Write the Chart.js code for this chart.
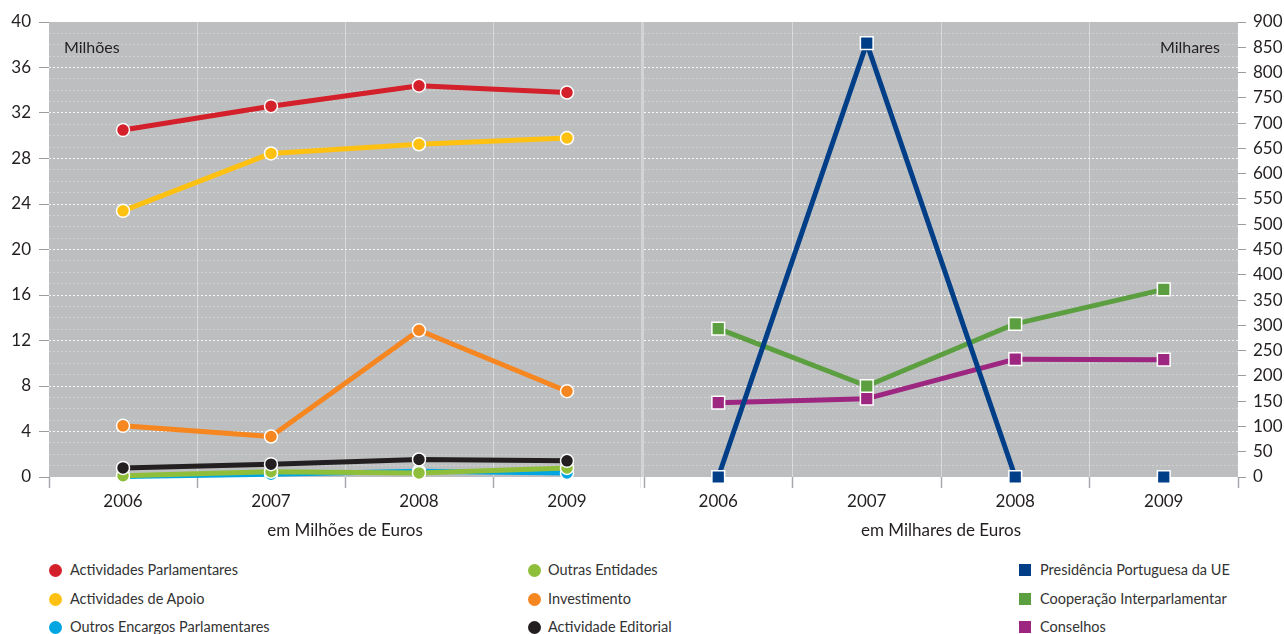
<!DOCTYPE html>
<html><head><meta charset="utf-8">
<script src="https://cdn.jsdelivr.net/npm/chart.js@4.4.1/dist/chart.umd.min.js"></script>
<style>
html,body{margin:0;padding:0;background:#fff;}
#wrap{position:relative;width:1284px;height:634px;overflow:hidden;font-family:Lato,"Open Sans",sans-serif;color:#231f20;}
canvas{position:absolute;top:0;}
.lbl{position:absolute;font-size:16px;line-height:20px;color:#231f20;white-space:nowrap;}
.leg{position:absolute;font-size:14.5px;line-height:18px;color:#333;white-space:nowrap;}
.mk{position:absolute;}
</style></head><body>
<div id="wrap">
<canvas id="c1" width="641" height="545" style="left:0px"></canvas>
<canvas id="c2" width="643" height="545" style="left:641px"></canvas>
<div class="lbl" style="left:64px;top:37px">Milhões</div>
<div class="lbl" style="right:64px;top:37px">Milhares</div>
<div id="legend"></div>
</div>
<script>
// ---- data ----
const years = ['2006', '2007', '2008', '2009'];
// left panel: em Milhões de Euros
const actividadesParlamentares = [30.5, 32.6, 34.4, 33.8];
const actividadesApoio = [23.4, 28.45, 29.25, 29.8];
const outrosEncargos = [0.05, 0.25, 0.5, 0.35];
const outrasEntidades = [0.12, 0.47, 0.36, 0.8];
const investimento = [4.5, 3.56, 12.9, 7.54];
const actividadeEditorial = [0.8, 1.13, 1.54, 1.42];
// right panel: em Milhares de Euros
const presidenciaUE = [0, 858, 0, 0];
const cooperacao = [293.5, 180, 303, 371];
const conselhos = [147, 155, 233, 232];
// tick labels
const milhoesTicks = [0, 4, 8, 12, 16, 20, 24, 28, 32, 36, 40];
const milharesTicks = [0, 50, 100, 150, 200, 250, 300, 350, 400, 450, 500, 550, 600, 650, 700, 750, 800, 850, 900];

const FONT = 'Lato';
const TXT = '#231f20';
const C = {
  red: '#d3202a', yellow: '#fec111', cyan: '#00a6e2', lgreen: '#8fbf3a',
  orange: '#f6861f', black: '#231f20', navy: '#003f88', green: '#5c9f40', magenta: '#9d2680'
};

const bgPlugin = {
  id: 'bg',
  beforeDraw(chart, args, opts) {
    const {ctx, chartArea: a} = chart;
    ctx.save();
    ctx.fillStyle = '#bdbec0';
    ctx.fillRect(a.left, a.top, a.right - a.left, a.bottom - a.top);
    if (opts.sep) {
      ctx.fillStyle = '#d2d3d5';
      ctx.fillRect(a.left - 3, a.top, 3, a.bottom - a.top);
    }
    ctx.restore();
  }
};

const hGridColor = c => {
  const v = c.tick ? c.tick.value : 0;
  if (v <= 0 || v >= 40) return 'rgba(0,0,0,0)';
  return milhoesTicks.includes(v) ? 'rgba(255,255,255,0.9)' : 'rgba(255,255,255,0.3)';
};

function xScale(title) {
  return {
    type: 'category', labels: years, offset: true,
    grid: {
      offset: true,
      color: c => (c.index === 0 || c.index === 4) ? 'rgba(0,0,0,0)' : 'rgba(255,255,255,0.4)',
      lineWidth: 1, tickColor: '#a7a9ac', tickLength: 11, tickWidth: 1.5
    },
    border: {display: false},
    ticks: {font: {family: FONT, size: 17}, color: TXT, padding: 3, maxRotation: 0},
    title: {display: true, text: title, font: {family: FONT, size: 17}, color: TXT, padding: {top: 0, bottom: 4}},
    afterFit: s => { s.height = 68; }
  };
}

function ds(label, data, color, order, square) {
  return {
    label, data, order,
    borderColor: color, backgroundColor: color,
    borderWidth: 5, tension: 0, clip: false,
    pointStyle: square ? 'rect' : 'circle',
    pointRadius: square ? 9 : 6.5,
    pointBorderColor: '#ffffff', pointBorderWidth: 1.5,
    pointBackgroundColor: color
  };
}

const common = {
  responsive: false, animation: false, devicePixelRatio: 1,
  plugins: {legend: {display: false}, tooltip: {enabled: false}},
  elements: {line: {borderCapStyle: 'round', borderJoinStyle: 'round'}}
};

new Chart(document.getElementById('c1'), {
  type: 'line',
  data: {
    labels: years,
    datasets: [
      ds('Actividades Parlamentares', actividadesParlamentares, C.red, 0),
      ds('Actividades de Apoio', actividadesApoio, C.yellow, 1),
      ds('Outros Encargos Parlamentares', outrosEncargos, C.cyan, 5),
      ds('Outras Entidades', outrasEntidades, C.lgreen, 4),
      ds('Investimento', investimento, C.orange, 2),
      ds('Actividade Editorial', actividadeEditorial, C.black, 3)
    ]
  },
  options: Object.assign({}, common, {
    layout: {autoPadding: false, padding: {top: 22, left: 0, right: 0, bottom: 0}},
    plugins: Object.assign({}, common.plugins, {bg: {sep: false}}),
    scales: {
      x: xScale('em Milhões de Euros'),
      y: {
        position: 'left', min: 0, max: 40,
        grid: {
          color: hGridColor, lineWidth: 1,
          tickColor: c => milhoesTicks.includes(c.tick.value) ? '#9b9c9e' : 'rgba(0,0,0,0)',
          tickLength: 10, tickBorderDash: []
        },
        border: {display: false, dash: [2, 2]},
        ticks: {
          stepSize: 1, autoSkip: false, padding: 8,
          font: {family: FONT, size: 17}, color: TXT,
          callback: v => milhoesTicks.includes(v) ? String(v) : ''
        },
        afterFit: s => { s.width = 49; }
      }
    }
  }),
  plugins: [bgPlugin]
});

const rightSets = [
  Object.assign(ds('Presidência Portuguesa da UE', presidenciaUE, C.navy, 0, true), {
    segment: {borderColor: c => c.p0DataIndex === 2 ? 'rgba(0,0,0,0)' : undefined}
  }),
  ds('Cooperação Interparlamentar', cooperacao, C.green, 1, true),
  ds('Conselhos', conselhos, C.magenta, 2, true)
];
rightSets.forEach(d => { d.yAxisID = 'y'; d.xAxisID = 'x'; });

new Chart(document.getElementById('c2'), {
  type: 'line',
  data: {labels: years, datasets: rightSets},
  options: Object.assign({}, common, {
    layout: {autoPadding: false, padding: {top: 22, left: 3, right: 0, bottom: 0}},
    plugins: Object.assign({}, common.plugins, {bg: {sep: true}}),
    scales: {
      x: xScale('em Milhares de Euros'),
      g: {
        axis: 'y', position: 'left', min: 0, max: 40,
        grid: {color: hGridColor, lineWidth: 1, drawTicks: false},
        border: {display: false, dash: [2, 2]},
        ticks: {display: false, stepSize: 1, autoSkip: false},
        afterFit: s => { s.width = 0; }
      },
      y: {
        axis: 'y', position: 'right', min: 0, max: 900,
        grid: {drawOnChartArea: false, tickColor: '#9b9c9e', tickLength: 8},
        border: {display: false},
        ticks: {
          stepSize: 50, autoSkip: false, padding: 7,
          font: {family: FONT, size: 17}, color: TXT,
          callback: v => milharesTicks.includes(v) ? String(v) : ''
        },
        afterFit: s => { s.width = 46; }
      }
    }
  }),
  plugins: [bgPlugin]
});

// ---- legend (HTML text) ----
const legendCols = [
  {mx: 55, tx: 70, square: false, items: [
    ['Actividades Parlamentares', C.red], ['Actividades de Apoio', C.yellow], ['Outros Encargos Parlamentares', C.cyan]]},
  {mx: 534, tx: 548, square: false, items: [
    ['Outras Entidades', C.lgreen], ['Investimento', C.orange], ['Actividade Editorial', C.black]]},
  {mx: 1025, tx: 1040, square: true, items: [
    ['Presidência Portuguesa da UE', C.navy], ['Cooperação Interparlamentar', C.green], ['Conselhos', C.magenta]]}
];
const rowsY = [570, 599, 627];
const lg = document.getElementById('legend');
legendCols.forEach(col => {
  col.items.forEach((it, i) => {
    const y = rowsY[i];
    const m = document.createElement('div');
    m.className = 'mk';
    const sz = col.square ? 12 : 13;
    m.style.cssText = `left:${col.mx - sz / 2}px;top:${y - sz / 2}px;width:${sz}px;height:${sz}px;background:${it[1]};border-radius:${col.square ? 0 : 50}%;`;
    lg.appendChild(m);
    const t = document.createElement('div');
    t.className = 'leg';
    t.style.left = col.tx + 'px';
    t.style.top = (y - 9) + 'px';
    t.textContent = it[0];
    lg.appendChild(t);
  });
});
</script>
</body></html>
